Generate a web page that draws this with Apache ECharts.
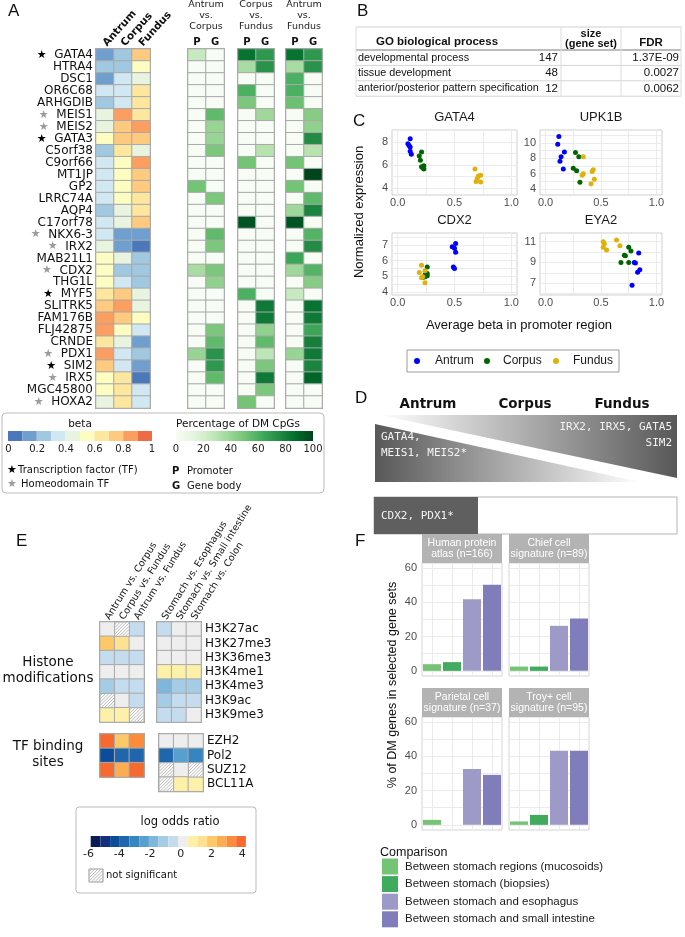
<!DOCTYPE html>
<html><head><meta charset="utf-8">
<script src="https://cdn.jsdelivr.net/npm/echarts@6/dist/echarts.min.js"></script>
<style>html,body{margin:0;padding:0;background:#fff}#c{width:685px;height:937px}</style>
</head><body><div id="c"></div>
<script>
// ---------------- DATA ----------------
const genes = ['GATA4','HTRA4','DSC1','OR6C68','ARHGDIB','MEIS1','MEIS2','GATA3','C5orf38','C9orf66','MT1JP','GP2','LRRC74A','AQP4','C17orf78','NKX6-3','IRX2','MAB21L1','CDX2','THG1L','MYF5','SLITRK5','FAM176B','FLJ42875','CRNDE','PDX1','SIM2','IRX5','MGC45800','HOXA2'];
const tfGenes = ['GATA4','GATA3','MYF5','SIM2'];
const homeoGenes = ['MEIS1','MEIS2','NKX6-3','IRX2','CDX2','PDX1','IRX5','HOXA2'];
const regions = ['Antrum','Corpus','Fundus'];
const betaAntrum = [0.15,0.25,0.15,0.35,0.25,0.45,0.45,0.55,0.25,0.35,0.35,0.35,0.35,0.25,0.35,0.35,0.45,0.55,0.55,0.55,0.65,0.75,0.85,0.85,0.65,0.85,0.75,0.55,0.55,0.45];
const betaCorpus = [0.25,0.25,0.35,0.35,0.35,0.85,0.75,0.75,0.65,0.55,0.55,0.55,0.55,0.45,0.45,0.15,0.15,0.45,0.25,0.35,0.75,0.85,0.75,0.55,0.45,0.35,0.35,0.65,0.65,0.65];
const betaFundus = [0.75,0.55,0.45,0.65,0.65,0.65,0.85,0.75,0.45,0.85,0.75,0.75,0.65,0.65,0.75,0.15,0.05,0.25,0.25,0.25,0.45,0.45,0.55,0.35,0.15,0.25,0.15,0.05,0.35,0.35];
const comparisons = ['Antrum\nvs.\nCorpus','Corpus\nvs.\nFundus','Antrum\nvs.\nFundus'];
const pgLabels = ['P','G'];
const avcP = [25,0,0,0,0,0,0,0,0,0,0,50,0,0,0,0,0,0,35,0,0,0,0,0,0,40,0,0,0,0];
const avcG = [0,0,0,0,0,55,40,40,48,0,0,0,48,0,0,55,48,0,48,42,0,0,0,48,55,72,70,55,0,0];
const cvfP = [85,35,0,60,48,0,0,0,0,50,0,0,0,0,95,0,0,0,0,0,60,0,0,0,0,0,0,0,0,50];
const cvfG = [70,72,0,0,0,38,0,0,30,0,0,0,0,0,0,0,0,0,0,0,0,82,82,42,55,28,48,82,48,0];
const avfP = [85,35,60,60,52,0,0,0,0,50,0,50,0,38,95,0,0,65,38,0,25,0,0,0,0,40,0,0,0,0];
const avfG = [70,72,0,0,0,45,42,75,30,0,100,0,55,78,0,58,75,0,58,45,0,85,82,65,80,82,78,90,0,0];
const betaTicks = [0,0.2,0.4,0.6,0.8,1];
const pctTicks = [0,20,40,60,80,100];

const goTerms = ['developmental process','tissue development','anterior/posterior pattern specification'];
const goSize = [147,48,12];
const goFDR = ['1.37E-09','0.0027','0.0062'];

const gata4Antrum = [[0.11,8.29],[0.09,7.86],[0.10,7.70],[0.11,7.57],[0.11,7.20],[0.12,6.94]];
const gata4Corpus = [[0.21,7.14],[0.19,6.80],[0.20,6.43],[0.21,5.86],[0.23,5.94],[0.23,5.66],[0.22,5.77]];
const gata4Fundus = [[0.68,5.66],[0.71,5.06],[0.73,5.11],[0.70,4.83],[0.69,4.57],[0.73,4.54]];
const upk1bAntrum = [[0.12,10.8],[0.11,9.8],[0.17,8.8],[0.14,8.2],[0.13,7.6],[0.16,6.6]];
const upk1bCorpus = [[0.27,8.75],[0.30,8.2],[0.25,6.7],[0.28,6.4],[0.31,4.9]];
const upk1bFundus = [[0.34,8.2],[0.33,5.8],[0.34,6.0],[0.42,6.3],[0.43,6.5],[0.44,5.3],[0.41,4.7]];
const cdx2Antrum = [[0.48,6.89],[0.50,6.80],[0.51,7.10],[0.51,6.53],[0.49,5.60],[0.50,5.50]];
const cdx2Corpus = [[0.26,5.60],[0.24,5.10],[0.26,5.03],[0.24,4.97],[0.22,4.92],[0.26,5.18]];
const cdx2Fundus = [[0.21,5.70],[0.19,5.24],[0.24,5.35],[0.21,4.90],[0.22,4.97],[0.24,4.58]];
const eya2Antrum = [[0.84,9.9],[0.80,9.0],[0.81,8.95],[0.83,8.05],[0.85,8.3],[0.78,6.8]];
const eya2Corpus = [[0.75,10.45],[0.77,10.1],[0.71,9.7],[0.72,9.65],[0.68,9.0],[0.75,9.0]];
const eya2Fundus = [[0.52,11.0],[0.53,10.8],[0.52,10.45],[0.55,10.2],[0.64,11.15],[0.67,10.6]];
const cXTicks = [0,0.5,1];

const histMarks = ['H3K27ac','H3K27me3','H3K36me3','H3K4me1','H3K4me3','H3K9ac','H3K9me3'];
const tfMarks = ['EZH2','Pol2','SUZ12','BCL11A'];
const eColsLeft = ['Antrum vs. Corpus','Corpus vs. Fundus','Antrum vs. Fundus'];
const eColsRight = ['Stomach vs. Esophagus','Stomach vs. Small intestine','Stomach vs. Colon'];
const eHistLeft = [[0,'NS',-0.5],[2.0,1.4,0],[-0.5,-0.5,-0.5],[0,0,0],[-1.1,-0.5,-0.5],['NS',0,-0.5],[0.8,0.8,'NS']];
const eHistRight = [[-0.5,0,0],[0,0,0],[0,0,0],[0.8,0.8,0.8],[-1.8,-1.1,-1.1],[-1.1,-0.5,-0.5],[-0.5,-0.5,0]];
const eTfLeft = [[3.9,2.0,3.3],[-4.3,-3.6,-3.6],[3.9,2.6,3.9]];
const eTfRight = [[0,0,0],[-3.6,-2.4,-3.0],['NS',0,'NS'],['NS',0.8,0.8]];
const eLegendTicks = [-6,-4,-2,0,2,4];

const fCategories = ['Between stomach regions (mucosoids)','Between stomach (biopsies)','Between stomach and esophagus','Between stomach and small intestine'];
const fPanelNames = ['Human protein\natlas (n=166)','Chief cell\nsignature (n=89)','Parietal cell\nsignature (n=37)','Troy+ cell\nsignature (n=95)'];
const fHPA = [3.9,5.1,41.9,50.3];
const fChief = [2.5,2.5,26.3,30.6];
const fParietal = [2.9,0,32.7,29.2];
const fTroy = [2.0,5.8,43.3,43.3];
const fTicks = [0,20,40,60];
const fMinor = [0,10,20,30,40,50,60];

// ---------------- STYLE ----------------
const DV='DejaVu Sans', LS='Liberation Sans', MONO='DejaVu Sans Mono';
const betaColors = ['#4a78bb','#6f9fce','#a0c8e1','#d1e7f1','#e8f4df','#fdfdc1','#fde69e','#fdca7f','#fb9e60','#ef6b46'];
const greens = ['#f7fcf5','#e5f5e0','#c7e9c0','#a1d99b','#74c476','#41ab5d','#238b45','#006d2c','#00441b'];
const eColors = ['#0b1d56','#12307e','#0b4c9b','#1f66ad','#3586c0','#56a0d0','#7fb7dc','#a5cce5','#c4dcee','#eeeeee','#fdf1a9','#fee292','#fec866','#fdad50','#fb8c3b','#f76a2f'];
const eMin=-5.85, eStep=0.63;
const cColors = ['#0000ff','#006400','#e0b10a'];
const fColors = ['#74c476','#41ab5d','#9e9ac8','#807dba'];

const G=[];
function T(x,y,text,o){o=o||{};const st={text,fill:o.color||'#111',fontSize:o.size||12,fontFamily:o.font||DV,fontWeight:o.weight||'normal',align:o.align||'center',verticalAlign:o.va||'middle',textAlign:o.align||'center',textVerticalAlign:o.va||'middle'};if(o.lh)st.lineHeight=o.lh;G.push({type:'text',x,y,rotation:o.rot||0,z:o.z||20,silent:true,style:st});}
function R(x,y,w,h,fill,stroke,lw,r,z){G.push({type:'rect',shape:{x,y,width:w,height:h,r:r||0},z:z||15,silent:true,style:{fill:fill||'none',stroke:stroke||null,lineWidth:lw||1}});}
function L(x1,y1,x2,y2,stroke,lw,z){G.push({type:'line',shape:{x1,y1,x2,y2},z:z||16,silent:true,style:{stroke,lineWidth:lw||1}});}
function hatchLines(x0,y0,w,h,step){const out=[];for(let d=-h+step/2;d<w;d+=step){const ua=Math.max(0,d),ub=Math.min(w,h+d);out.push([x0+ua,y0+h-(ua-d),x0+ub,y0+h-(ub-d)]);}return out;}

const grids=[],xAxes=[],yAxes=[],series=[],visualMap=[];
const noAx={axisLine:{show:false},axisTick:{show:false},splitLine:{show:false}};
function grid(l,t,w,h,o){grids.push(Object.assign({left:l,top:t,width:w,height:h,outerBoundsMode:'none',containLabel:false},o||{}));return grids.length-1;}

// ---------------- PANEL A ----------------
{
 const gi=grid(96,49,54,359,{show:true,borderColor:'#a6a6a6',borderWidth:2});
 xAxes.push(Object.assign({gridIndex:gi,type:'category',data:regions,position:'top',axisLabel:{interval:0,rotate:-48,margin:4,fontFamily:DV,fontWeight:'bold',fontSize:10.5,color:'#111'}},noAx));
 yAxes.push(Object.assign({gridIndex:gi,type:'category',data:genes,inverse:true,axisLabel:{interval:0,margin:3,fontFamily:DV,fontSize:12,color:'#111',
   formatter:v=>tfGenes.includes(v)?'{b|★}  '+v:(homeoGenes.includes(v)?'{g|★}  '+v:v),
   rich:{b:{color:'#000',fontSize:11,fontFamily:DV},g:{color:'#9b9b9b',fontSize:11,fontFamily:DV}}}},noAx));
 const d=[];genes.forEach((g,i)=>{d.push([0,i,betaAntrum[i]],[1,i,betaCorpus[i]],[2,i,betaFundus[i]]);});
 series.push({type:'heatmap',xAxisIndex:xAxes.length-1,yAxisIndex:yAxes.length-1,data:d,silent:true,itemStyle:{borderColor:'#a9a9a9',borderWidth:1},emphasis:{disabled:true}});
 visualMap.push({type:'piecewise',show:false,seriesIndex:series.length-1,dimension:2,pieces:betaColors.map((c,i)=>({gte:i/10,lt:(i+1)/10+(i==9?0.01:0),color:c}))});
 const gs=[[avcP,avcG,188],[cvfP,cvfG,238],[avfP,avfG,286]];const gIdx=[];
 gs.forEach(([P,Gv,l],k)=>{
  const gj=grid(l,49,36,359,{show:true,borderColor:'#a6a6a6',borderWidth:2});
  xAxes.push(Object.assign({gridIndex:gj,type:'category',data:pgLabels,position:'top',axisLabel:{interval:0,margin:2,fontFamily:DV,fontWeight:'bold',fontSize:10,color:'#111'}},noAx));
  yAxes.push({gridIndex:gj,type:'category',data:genes,inverse:true,show:false});
  const dd=[];genes.forEach((g,i)=>{dd.push([0,i,P[i]],[1,i,Gv[i]]);});
  series.push({type:'heatmap',xAxisIndex:xAxes.length-1,yAxisIndex:yAxes.length-1,data:dd,silent:true,itemStyle:{borderColor:'#a9a9a9',borderWidth:1},emphasis:{disabled:true}});
  gIdx.push(series.length-1);
  T(l+18,16,comparisons[k],{size:9.5,color:'#222',lh:11});
 });
 visualMap.push({type:'continuous',show:false,seriesIndex:gIdx,dimension:2,min:0,max:100,inRange:{color:greens}});
 // legend
 R(2,413,322,80,null,'#bbbbbb',1,4);
 T(80,424,'beta',{size:10.5});
 betaColors.forEach((c,i)=>R(8+i*14.4,431,14.4,10,c,null,0,0,17));
 betaTicks.forEach(v=>T(8.5+v*143.5,449,String(v),{size:10,color:'#222'}));
 T(238,424,'Percentage of DM CpGs',{size:10.5});
 G.push({type:'rect',shape:{x:176,y:431,width:137,height:10},z:17,silent:true,style:{fill:new echarts.graphic.LinearGradient(0,0,1,0,greens.map((c,i)=>({offset:i/(greens.length-1),color:c})))}});
 pctTicks.forEach(v=>T(176+v/100*137,449,String(v),{size:10,color:'#222'}));
 T(12,470,'★',{size:11,color:'#000'});T(18,470,'Transcription factor (TF)',{size:10,align:'left'});
 T(12,484,'★',{size:11,color:'#9b9b9b'});T(21,484,'Homeodomain TF',{size:10,align:'left'});
 T(172,471,'P',{size:10,weight:'bold',align:'left'});T(187,471,'Promoter',{size:10,align:'left'});
 T(172,486,'G',{size:10,weight:'bold',align:'left'});T(187,486,'Gene body',{size:10,align:'left'});
}

// ---------------- PANEL B ----------------
{
 const x0=356,x1=561,x2=621,x3=681,top=27,hb=50,rh=15.4;
 L(x0,top,x3,top,'#d0d0d0',1);L(x0,hb,x3,hb,'#7a7a7a',1);
 for(let i=1;i<=3;i++)L(x0,hb+i*rh,x3,hb+i*rh,'#d4d4d4',1);
 [x0,x1,x2,x3].forEach(x=>L(x,top,x,hb+3*rh,'#dcdcdc',1));
 T(437,42,'GO biological process',{font:LS,size:11.5,weight:'bold'});
 T(591,34,'size',{font:LS,size:11,weight:'bold'});T(591,43.5,'(gene set)',{font:LS,size:11,weight:'bold'});
 T(651,43,'FDR',{font:LS,size:11.5,weight:'bold'});
 goTerms.forEach((t,i)=>{const y=hb+rh*i+rh/2;T(358,y,t,{font:LS,size:10.8,align:'left'});T(558,y,String(goSize[i]),{font:LS,size:11.5,align:'right'});T(679,y,goFDR[i],{font:LS,size:11.5,align:'right'});});
}

// ---------------- PANEL C ----------------
{
 const cPlots=[
  {title:'GATA4',l:392,t:130,w:125,h:65,ymin:3.4,ymax:9.05,lab:[4,6,8],spl:[4,5,6,7,8,9],d:[gata4Antrum,gata4Corpus,gata4Fundus]},
  {title:'UPK1B',l:540,t:130,w:122,h:65,ymin:3.25,ymax:11.65,lab:[4,6,8,10],spl:[4,5,6,7,8,9,10,11],d:[upk1bAntrum,upk1bCorpus,upk1bFundus]},
  {title:'CDX2',l:392,t:233,w:125,h:62,ymin:3.8,ymax:7.77,lab:[4,5,6,7],spl:[4,4.5,5,5.5,6,6.5,7,7.5],d:[cdx2Antrum,cdx2Corpus,cdx2Fundus]},
  {title:'EYA2',l:540,t:233,w:122,h:62,ymin:5.87,ymax:11.83,lab:[7,9,11],spl:[6,7,8,9,10,11],d:[eya2Antrum,eya2Corpus,eya2Fundus]}];
 cPlots.forEach(p=>{
  const gi=grid(p.l,p.t,p.w,p.h,{show:true,borderColor:'#cfcfcf',borderWidth:1,backgroundColor:'#fff'});
  xAxes.push({gridIndex:gi,type:'value',min:-0.05,max:1.05,axisLine:{show:false},axisTick:{show:false,customValues:[0,0.25,0.5,0.75,1]},
    axisLabel:{customValues:cXTicks,formatter:v=>v.toFixed(1),color:'#4d4d4d',fontSize:11,fontFamily:LS,margin:2},splitLine:{show:true,lineStyle:{color:'#ebebeb',width:1}}});
  yAxes.push({gridIndex:gi,type:'value',min:p.ymin,max:p.ymax,axisLine:{show:false},axisTick:{show:false,customValues:p.spl},
    axisLabel:{customValues:p.lab,color:'#4d4d4d',fontSize:11,fontFamily:LS,margin:4},splitLine:{show:true,lineStyle:{color:'#ebebeb',width:1}}});
  p.d.forEach((arr,k)=>series.push({type:'scatter',name:regions[k],xAxisIndex:xAxes.length-1,yAxisIndex:yAxes.length-1,data:arr,symbolSize:5,silent:true,itemStyle:{color:cColors[k],opacity:1}}));
  T(p.l+p.w/2,p.t-13,p.title,{font:LS,size:13,color:'#1a1a1a'});
 });
 T(359,212,'Normalized expression',{font:LS,size:13,rot:Math.PI/2});
 T(519,325,'Average beta in promoter region',{font:LS,size:13});
 R(407,350,212,22,'#fff','#9a9a9a',1,0);
 const lx=[417,487,556],tx=[435,503,573];
 regions.forEach((r,k)=>{G.push({type:'circle',shape:{cx:lx[k],cy:361,r:3},z:18,silent:true,style:{fill:cColors[k]}});T(tx[k],361,r,{font:LS,size:12,align:'left',color:'#1a1a1a'});});
}

// ---------------- PANEL D ----------------
{
 T(428,404,'Antrum',{size:13.5,weight:'bold'});T(525,404,'Corpus',{size:13.5,weight:'bold'});T(622,404,'Fundus',{size:13.5,weight:'bold'});
 G.push({type:'polygon',shape:{points:[[380,415],[677,415],[677,478]]},z:12,silent:true,style:{fill:new echarts.graphic.LinearGradient(0,0,1,0,[{offset:0,color:'#ffffff'},{offset:1,color:'#585858'}])}});
 G.push({type:'polygon',shape:{points:[[375,424],[375,482],[640,482]]},z:12,silent:true,style:{fill:new echarts.graphic.LinearGradient(0,0,1,0,[{offset:0,color:'#585858'},{offset:1,color:'#ffffff'}])}});
 T(672,427,'IRX2, IRX5, GATA5',{font:MONO,size:11,align:'right',color:'#f4f4f4'});
 T(672,443,'SIM2',{font:MONO,size:11,align:'right',color:'#f4f4f4'});
 T(381,437,'GATA4,',{font:MONO,size:11,align:'left',color:'#f4f4f4'});
 T(381,453,'MEIS1, MEIS2*',{font:MONO,size:11,align:'left',color:'#f4f4f4'});
 R(374,497,303,37,'#fff','#b5b5b5',1,0,12);
 R(374,497,104,37,'#5f5f5f',null,0,0,13);
 T(381,516,'CDX2, PDX1*',{font:MONO,size:11,align:'left',color:'#f4f4f4'});
}

// ---------------- PANEL E ----------------
{
 const eG=[
  {l:100,t:622,w:44,h:100,cols:eColsLeft,rows:histMarks,vals:eHistLeft,sx:true,sy:false},
  {l:157,t:622,w:44,h:100,cols:eColsRight,rows:histMarks,vals:eHistRight,sx:true,sy:true},
  {l:100,t:734,w:44,h:43,cols:eColsLeft,rows:tfMarks.slice(0,3),vals:eTfLeft,sx:false,sy:false},
  {l:159,t:734,w:44,h:57.3,cols:eColsRight,rows:tfMarks,vals:eTfRight,sx:false,sy:true}];
 const hIdx=[];
 eG.forEach(p=>{
  const gi=grid(p.l,p.t,p.w,p.h,{show:true,borderColor:'#a6a6a6',borderWidth:2});
  xAxes.push(Object.assign({gridIndex:gi,type:'category',data:p.cols,position:'top',axisLabel:{show:p.sx,interval:0,rotate:-58,margin:3,fontFamily:DV,fontSize:9.6,color:'#111'}},noAx));
  yAxes.push(Object.assign({gridIndex:gi,type:'category',data:p.rows,inverse:true,position:'right',axisLabel:{show:p.sy,interval:0,margin:4,fontFamily:DV,fontSize:12,color:'#111'}},noAx));
  const hd=[],ns=[];
  p.vals.forEach((row,r)=>row.forEach((v,c)=>{if(v==='NS')ns.push([c,r]);else hd.push([c,r,v]);}));
  series.push({type:'heatmap',xAxisIndex:xAxes.length-1,yAxisIndex:yAxes.length-1,data:hd,silent:true,itemStyle:{borderColor:'#a9a9a9',borderWidth:1},emphasis:{disabled:true}});
  hIdx.push(series.length-1);
  if(ns.length)series.push({type:'custom',xAxisIndex:xAxes.length-1,yAxisIndex:yAxes.length-1,data:ns,silent:true,z:3,
   renderItem:(params,api)=>{const c=api.coord([api.value(0),api.value(1)]);const s=api.size([1,1]);const x0=c[0]-s[0]/2,y0=c[1]-s[1]/2;
     const ch=[{type:'rect',shape:{x:x0,y:y0,width:s[0],height:s[1]},style:{fill:'#fff',stroke:'#a9a9a9',lineWidth:1}}];
     hatchLines(x0+0.5,y0+0.5,s[0]-1,s[1]-1,3.2).forEach(q=>ch.push({type:'line',shape:{x1:q[0],y1:q[1],x2:q[2],y2:q[3]},style:{stroke:'#9a9a9a',lineWidth:0.7}}));
     return {type:'group',children:ch};}});
 });
 visualMap.push({type:'piecewise',show:false,seriesIndex:hIdx,dimension:2,pieces:eColors.map((c,i)=>({gte:eMin+i*eStep,lt:eMin+(i+1)*eStep,color:c}))});
 T(48,662,'Histone',{size:13.5});T(48,678,'modifications',{size:13.5});
 T(48,746,'TF binding',{size:13.5});T(48,762,'sites',{size:13.5});
 R(76,807,180,86,null,'#bbbbbb',1,3);
 T(180,822,'log odds ratio',{size:11.5});
 eColors.forEach((c,i)=>R(90.7+i*9.7,836,9.7,11,c,null,0,0,17));
 eLegendTicks.forEach(v=>T(90.7+(v-eMin)/eStep*9.7,854,String(v),{size:11,color:'#222'}));
 R(89,869,14,13,'#fff','#999',1,0,17);
 hatchLines(89.5,869.5,13,12,3.2).forEach(q=>L(q[0],q[1],q[2],q[3],'#9a9a9a',0.7,18));
 T(106,875.5,'not significant',{size:10,align:'left'});
}

// ---------------- PANEL F ----------------
{
 const fCfg=[{l:422,t:563,d:fHPA,y:true},{l:509,t:563,d:fChief,y:false},{l:422,t:717,d:fParietal,y:true},{l:509,t:717,d:fTroy,y:false}];
 fCfg.forEach((c,k)=>{
  const gi=grid(c.l,c.t,80,113,{show:true,borderColor:'#d4d4d4',borderWidth:1,backgroundColor:'#fff'});
  xAxes.push(Object.assign({gridIndex:gi,type:'category',data:fCategories,axisLabel:{show:false}},noAx));
  const xa=xAxes.length-1;
  xAxes.push({gridIndex:gi,type:'value',min:0.5,max:4.5,position:'top',axisLine:{show:false},axisLabel:{show:false},axisTick:{show:false,customValues:[1,2,3,4]},splitLine:{show:true,lineStyle:{color:'#ebebeb'}}});
  yAxes.push({gridIndex:gi,type:'value',min:-3,max:63,axisLine:{show:false},axisTick:{show:false,customValues:fMinor},axisLabel:{show:c.y,customValues:fTicks,color:'#4d4d4d',fontSize:11,fontFamily:LS,margin:5},splitLine:{show:true,lineStyle:{color:'#ebebeb'}}});
  series.push({type:'bar',xAxisIndex:xa,yAxisIndex:yAxes.length-1,barCategoryGap:'10%',silent:true,data:c.d.map((v,i)=>({value:v,itemStyle:{color:fColors[i]}}))});
  const sy=c.t-29;
  R(c.l,sy,80,29,'#b3b3b3',null,0,0,15);
  T(c.l+40,sy+14.5,fPanelNames[k],{font:LS,size:10.5,color:'#fff',lh:11});
 });
 T(393,685,'% of DM genes in selected gene sets',{font:LS,size:12.5,rot:Math.PI/2});
 T(380,853,'Comparison',{font:LS,size:12.5,align:'left'});
 fCategories.forEach((c,i)=>{R(382,858.5+i*17.6,16,16,fColors[i],null,0,0,17);T(405,866.5+i*17.6,c,{font:LS,size:11.5,align:'left',color:'#1a1a1a'});});
}

// panel letters
T(8,11,'A',{font:LS,size:17,align:'left'});
T(357,11,'B',{font:LS,size:17,align:'left'});
T(353,121,'C',{font:LS,size:17,align:'left'});
T(355,398,'D',{font:LS,size:17,align:'left'});
T(16,541,'E',{font:LS,size:17,align:'left'});
T(355,541,'F',{font:LS,size:17,align:'left'});

const chart=echarts.init(document.getElementById('c'),null,{renderer:'canvas',width:685,height:937});
chart.setOption({animation:false,backgroundColor:'#fff',grid:grids,xAxis:xAxes,yAxis:yAxes,visualMap,series,graphic:{elements:G}});
</script></body></html>
